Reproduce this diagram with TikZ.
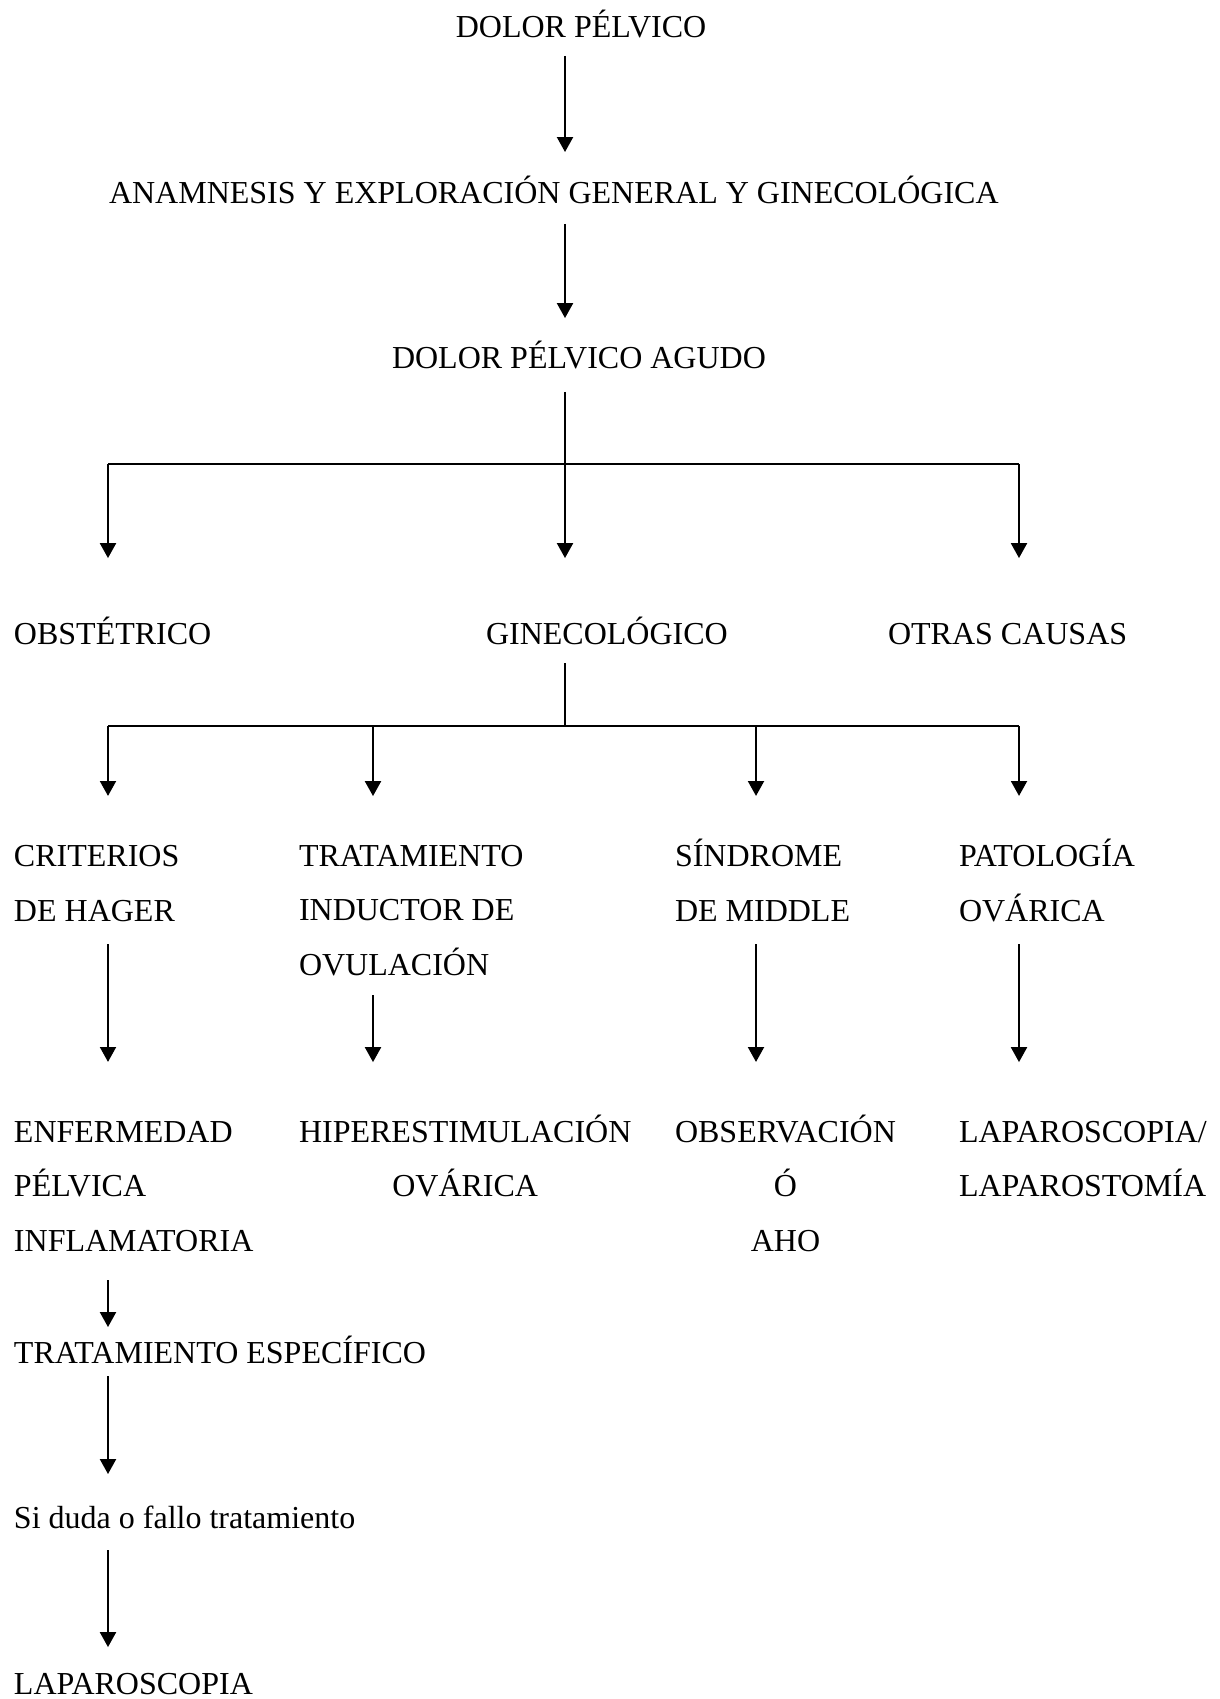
\documentclass[tikz,border=0pt]{standalone}
\usepackage{fontspec}
\setmainfont{Liberation Serif}
\usetikzlibrary{arrows.meta}

\begin{document}
\begin{tikzpicture}[x=0.375pt,y=-0.375pt,>={Triangle[length=5.6pt,width=6pt]},line width=0.75pt,
  lbl/.style={inner sep=0pt,anchor=base west,align=left,font=\fontsize{12}{20.4}\selectfont},
  arr/.style={->}]
\useasboundingbox (0,0) rectangle (1219,1699);
% columns and junctions
\coordinate (k0) at (108,0);
\coordinate (k1) at (373,0);
\coordinate (k2) at (565,0);
\coordinate (k3) at (756,0);
\coordinate (k4) at (1019,0);
\coordinate (j1) at (565,464);
\coordinate (j2) at (565,726);
% texts (multi-line ones sit on their last baseline)
\node[lbl,anchor=base] (dp) at (581,38) {DOLOR PÉLVICO};
\node[lbl] (an) at (108,204) {ANAMNESIS Y EXPLORACIÓN GENERAL Y GINECOLÓGICA};
\node[lbl] (ag) at (391,369) {DOLOR PÉLVICO AGUDO};
\node[lbl] (ob) at (13,645) {OBSTÉTRICO};
\node[lbl] (gi) at (485,645) {GINECOLÓGICO};
\node[lbl] (ot) at (887,645) {OTRAS CAUSAS};
\node[lbl] (ch) at (13,921) {CRITERIOS\\DE HAGER};
\node[lbl] (ti) at (298,975) {TRATAMIENTO\\INDUCTOR DE\\OVULACIÓN};
\node[lbl] (sm) at (674,921) {SÍNDROME\\DE MIDDLE};
\node[lbl] (po) at (958,921) {PATOLOGÍA\\OVÁRICA};
\node[lbl] (ep) at (13,1251) {ENFERMEDAD\\PÉLVICA\\INFLAMATORIA};
\node[lbl,align=center] (ho) at (298,1196.5) {HIPERESTIMULACIÓN\\OVÁRICA};
\node[lbl,align=center] (oa) at (674,1251) {OBSERVACIÓN\\Ó\\AHO};
\node[lbl] (la) at (958,1196.5) {LAPAROSCOPIA/\\LAPAROSTOMÍA};
\node[lbl] (te) at (13,1363) {TRATAMIENTO ESPECÍFICO};
\node[lbl] (sd) at (13,1528) {Si duda o fallo tratamiento};
\node[lbl] (lp) at (13,1694) {LAPAROSCOPIA};
% main spine
\draw[arr,shorten <=6.75pt,shorten >=19.5pt] (dp.base -| k2) -- (an.base -| k2);
\draw[arr,shorten <=7.5pt,shorten >=19.1pt] (an.base -| k2) -- (ag.base -| k2);
\draw[shorten <=8.6pt] (ag.base -| k2) -- (j1);
\draw (j1 -| k0) -- (j1 -| k4);
\draw[arr,shorten >=32.6pt] (j1 -| k0) -- (ob.base -| k0);
\draw[arr,shorten >=32.6pt] (j1) -- (gi.base -| k2);
\draw[arr,shorten >=32.6pt] (j1 -| k4) -- (ot.base -| k4);
% gynaecological branch
\draw[shorten <=6.75pt] (gi.base -| k2) -- (j2);
\draw (j2 -| k0) -- (j2 -| k4);
\draw[arr,shorten >=46.9pt] (j2 -| k0) -- (ch.base -| k0);
\draw[arr,shorten >=67.1pt] (j2 -| k1) -- (ti.base -| k1);
\draw[arr,shorten >=46.9pt] (j2 -| k3) -- (sm.base -| k3);
\draw[arr,shorten >=46.9pt] (j2 -| k4) -- (po.base -| k4);
\draw[arr,shorten <=8.25pt,shorten >=70.9pt] (ch.south -| k0) -- (ep.base -| k0);
\draw[arr,shorten <=7.1pt,shorten >=50.4pt] (ti.south -| k1) -- (ho.base -| k1);
\draw[arr,shorten <=8.25pt,shorten >=70.9pt] (sm.south -| k3) -- (oa.base -| k3);
\draw[arr,shorten <=8.25pt,shorten >=50.4pt] (po.south -| k4) -- (la.base -| k4);
% inflammatory disease
\draw[arr,shorten <=10.5pt,shorten >=13.5pt] (ep.south -| k0) -- (te.base -| k0);
\draw[arr,shorten <=4.9pt,shorten >=20.25pt] (te.base -| k0) -- (sd.base -| k0);
\draw[arr,shorten <=8.25pt,shorten >=17.6pt] (sd.base -| k0) -- (lp.base -| k0);
\end{tikzpicture}
\end{document}
